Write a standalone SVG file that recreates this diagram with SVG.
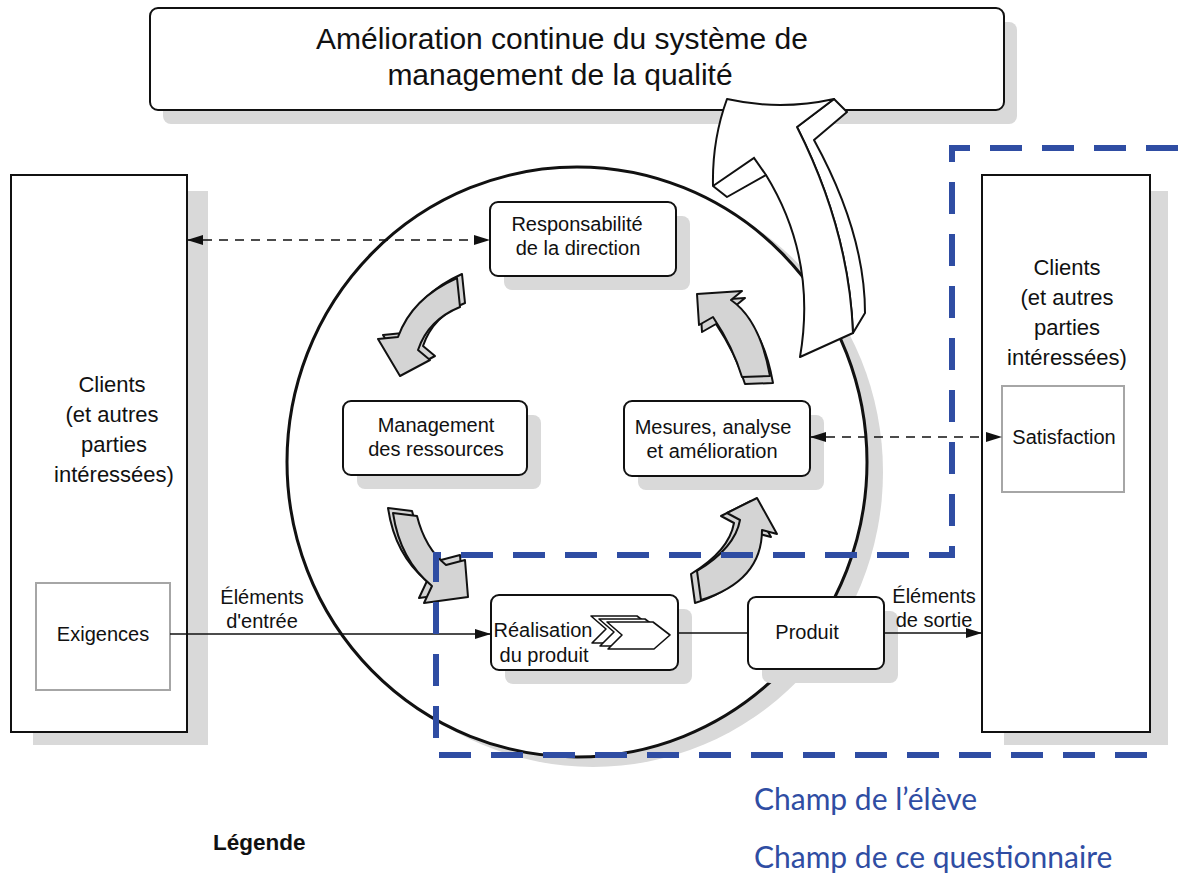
<svg xmlns="http://www.w3.org/2000/svg" width="1178" height="874" viewBox="0 0 1178 874">
  <style>
    .shadow { fill: #d9d9d9; stroke: none; }
    .box { fill: #ffffff; stroke: #111111; stroke-width: 2; }
    .inner { fill: #ffffff; stroke: #a6a6a6; stroke-width: 2; }
    .lbl { font-family: "Liberation Sans", Arial, sans-serif; font-size: 20px; fill: #111111; text-anchor: middle; }
    .big { font-family: "Liberation Sans", Arial, sans-serif; font-size: 22px; fill: #111111; text-anchor: middle; }
    .title { font-family: "Liberation Sans", Arial, sans-serif; font-size: 30px; fill: #111111; text-anchor: middle; }
    .garrow { fill: #d4d4d4; stroke: #111111; stroke-width: 2; stroke-linejoin: round; }
    .warrow { fill: #ffffff; stroke: #111111; stroke-width: 2; stroke-linejoin: round; }
    .conn { fill: none; stroke: #111111; stroke-width: 1.6; }
    .dash { fill: none; stroke: #111111; stroke-width: 1.6; stroke-dasharray: 9 7; }
    .scope { fill: none; stroke: #2f4da3; stroke-width: 6; stroke-dasharray: 32 20; }
    .blue { font-family: Lato, "Liberation Sans", sans-serif; font-size: 30px; fill: #2f4da3; }
  </style>
  <defs>
    <marker id="ah" viewBox="0 0 16 10" refX="16" refY="5" markerWidth="16" markerHeight="10" markerUnits="userSpaceOnUse" orient="auto-start-reverse">
      <path d="M0,0 L16,5 L0,10 Z" fill="#111111"/>
    </marker>
    <path id="ga1" d="M457,278 Q412,298 398,337 L378,339 L400,376 L430,360 L418,350 Q428,320 460,307 Z"/>
    <path id="ga2" d="M393,513 Q400,560 432,586 L424,603 L468,597 L465,560 L446,565 Q425,548 417,516 Z"/>
    <path id="ga3" d="M697,571 Q735,548 740,520 L727,513 L757,498 L777,534 L762,530 Q762,581 701,600 Z"/>
    <path id="ga4" d="M742,377 Q733,347 713,317 L699,325 L697,294 L742,291 L731,300 Q760,320 770,376 Z"/>
    <path id="chev" d="M0,0 L46,0 L63,13 L47,27 L1,27 L15,13 Z"/>
  </defs>

  <!-- quality improvement banner -->
  <g id="amelioration">
    <rect class="shadow" x="163" y="22" width="854" height="102" rx="8"/>
    <rect class="box" x="150" y="8" width="854" height="102" rx="8"/>
    <text class="title" x="562" y="49">Amélioration continue du système de</text>
    <text class="title" x="560" y="85">management de la qualité</text>
  </g>

  <!-- customers, input side -->
  <g id="clients-gauche">
    <rect class="shadow" x="33" y="191" width="175" height="554"/>
    <rect class="box" x="11" y="175" width="176" height="557"/>
    <text class="big" x="112" y="392">Clients</text>
    <text class="big" x="112" y="422">(et autres</text>
    <text class="big" x="114" y="452">parties</text>
    <text class="big" x="114" y="482">intéressées)</text>
    <rect class="inner" x="36" y="583" width="134" height="107"/>
    <text class="lbl" x="103" y="641">Exigences</text>
  </g>

  <!-- customers, output side -->
  <g id="clients-droite">
    <rect class="shadow" x="1004" y="191" width="164" height="554"/>
    <rect class="box" x="982" y="175" width="168" height="557"/>
    <text class="big" x="1067" y="275">Clients</text>
    <text class="big" x="1067" y="305">(et autres</text>
    <text class="big" x="1067" y="335">parties</text>
    <text class="big" x="1067" y="365">intéressées)</text>
    <rect class="inner" x="1002" y="386" width="122" height="106"/>
    <text class="lbl" x="1064" y="444">Satisfaction</text>
  </g>

  <!-- process loop -->
  <g id="cycle">
    <ellipse class="shadow" cx="593" cy="472" rx="290" ry="295"/>
    <ellipse cx="577" cy="462" rx="290" ry="295" fill="#ffffff" stroke="#111111" stroke-width="3"/>
  </g>

  <g id="responsabilite">
    <rect class="shadow" x="504" y="216" width="186" height="74" rx="8"/>
    <rect class="box" x="490" y="202" width="186" height="74" rx="8"/>
    <text class="lbl" x="577" y="231">Responsabilité</text>
    <text class="lbl" x="578" y="255">de la direction</text>
  </g>

  <g id="management">
    <rect class="shadow" x="357" y="415" width="184" height="74" rx="8"/>
    <rect class="box" x="343" y="401" width="184" height="74" rx="8"/>
    <text class="lbl" x="436" y="432">Management</text>
    <text class="lbl" x="436" y="456">des ressources</text>
  </g>

  <g id="mesures">
    <rect class="shadow" x="638" y="415" width="186" height="75" rx="8"/>
    <rect class="box" x="624" y="401" width="186" height="75" rx="8"/>
    <text class="lbl" x="713" y="434">Mesures, analyse</text>
    <text class="lbl" x="712" y="458">et amélioration</text>
  </g>

  <g id="realisation">
    <rect class="shadow" x="505" y="609" width="187" height="75" rx="8"/>
    <rect class="box" x="491" y="595" width="187" height="75" rx="8"/>
    <use href="#chev" x="591" y="616" class="warrow" style="stroke-width:1.6"/>
    <use href="#chev" x="599" y="619" class="warrow" style="stroke-width:1.6"/>
    <use href="#chev" x="607" y="622" class="warrow" style="stroke-width:1.6"/>
    <text class="lbl" x="543" y="637">Réalisation</text>
    <text class="lbl" x="544" y="662">du produit</text>
  </g>

  <g id="produit">
    <rect class="shadow" x="762" y="611" width="136" height="72" rx="8"/>
    <rect class="box" x="748" y="597" width="136" height="72" rx="8"/>
    <text class="lbl" x="807" y="639">Produit</text>
  </g>

  <!-- loop arrows between the four processes -->
  <g id="fleches-cycle">
    <use href="#ga1" class="garrow" transform="translate(5,-4)"/>
    <use href="#ga1" class="garrow"/>
    <use href="#ga2" class="garrow" transform="translate(-5,-5)"/>
    <use href="#ga2" class="garrow"/>
    <use href="#ga3" class="garrow" transform="translate(-6,3)"/>
    <use href="#ga3" class="garrow"/>
    <use href="#ga4" class="garrow" transform="translate(3,7)"/>
    <use href="#ga4" class="garrow"/>
  </g>

  <!-- improvement arrow rising to the banner -->
  <g id="fleche-amelioration">
    <path class="warrow" d="M797,127 L834,99 L847,112 L814,140 Q865,233 865,313 L853,333 Q849,230 797,127 Z"/>
    <path class="warrow" d="M800,357 Q817,258 766,175 L727,197 L713,186 Q712,140 727,99 Q780,111 834,99 L797,127 Q849,230 853,333 Z"/>
    <polyline class="conn" points="713,186 754,158 766,175" style="stroke-width:2"/>
  </g>

  <!-- connectors -->
  <g id="connecteurs">
    <line class="dash" x1="187" y1="240" x2="490" y2="240" marker-start="url(#ah)" marker-end="url(#ah)"/>
    <line class="dash" x1="810" y1="437" x2="1002" y2="437" marker-start="url(#ah)" marker-end="url(#ah)"/>
    <line class="conn" x1="170" y1="634" x2="491" y2="634" marker-end="url(#ah)"/>
    <line class="conn" x1="678" y1="633" x2="748" y2="633"/>
    <line class="conn" x1="884" y1="633" x2="982" y2="633" marker-end="url(#ah)"/>
    <text class="lbl" x="262" y="604">Éléments</text>
    <text class="lbl" x="262" y="628">d'entrée</text>
    <text class="lbl" x="934" y="603">Éléments</text>
    <text class="lbl" x="934" y="627">de sortie</text>
  </g>

  <!-- scope outlines -->
  <path class="scope" d="M1178,148 L952,148 L952,555 L436,555 L436,755 L1160,755"/>

  <g id="legende">
    <text x="213" y="850" font-family="Liberation Sans, Arial, sans-serif" font-size="22.5" font-weight="bold" fill="#111111">Légende</text>
    <text class="blue" x="754" y="810">Champ de l’élève</text>
    <text class="blue" x="754" y="868">Champ de ce questionnaire</text>
  </g>
</svg>
